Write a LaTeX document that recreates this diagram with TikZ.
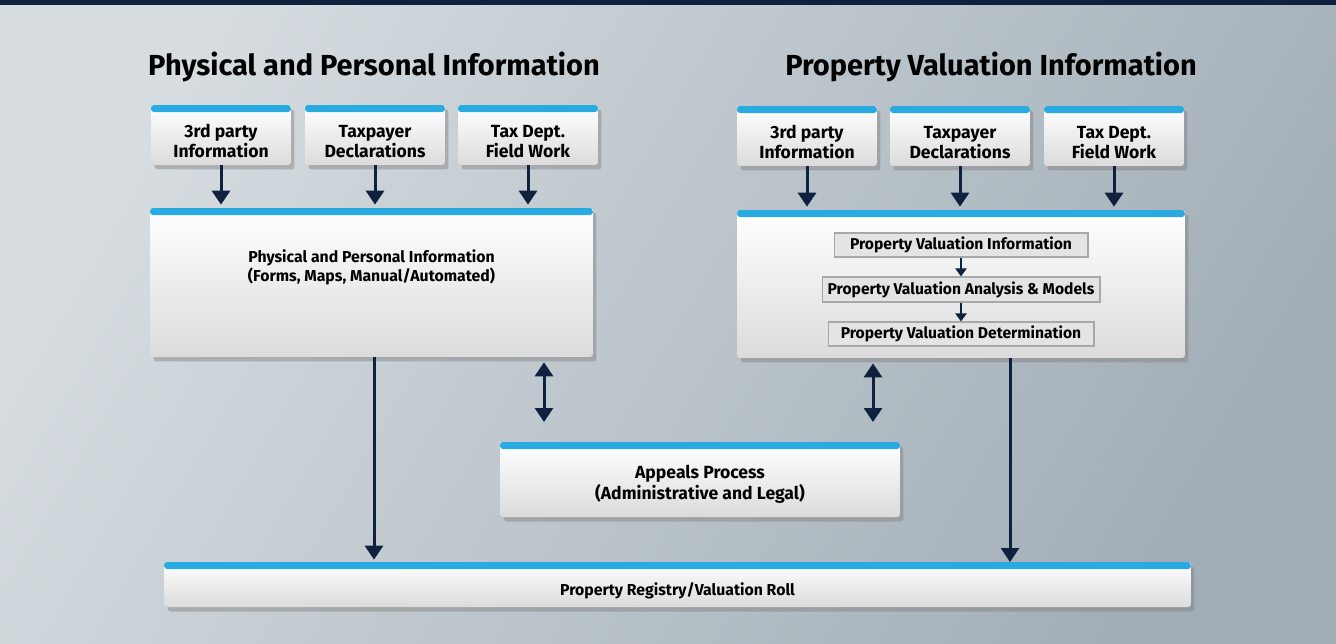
\documentclass[tikz,border=0pt]{standalone}
\usepackage{fontspec}
\setmainfont{Fira Sans}
\usetikzlibrary{positioning}
\usetikzlibrary{arrows.meta}
\usetikzlibrary{shadows}
\definecolor{navy}{HTML}{0E2240}
\definecolor{barblue}{HTML}{29ABE2}
\definecolor{bgtop}{HTML}{D6DCE0}
\definecolor{bgbot}{HTML}{A2AEB7}
\definecolor{stepfill}{HTML}{E4E4E4}
\definecolor{stepline}{HTML}{A8A8A8}
% pushes the first line of a box down below the blue bar
\newcommand{\bardown}[1][14pt]{\rule{0pt}{#1}}
\tikzset{
  infobox/.style={rectangle, rounded corners=0.06cm, top color=white, bottom color=black!14,
    drop shadow={shadow xshift=0.07cm, shadow yshift=-0.09cm, opacity=0.45},
    path picture={\fill[barblue] (path picture bounding box.north west) rectangle ([yshift=-0.14cm]path picture bounding box.north east);},
    font=\bfseries\fontsize{10}{11.5}\selectfont, align=center, inner sep=0pt},
  srcbox/.style={infobox, minimum width=2.8cm, minimum height=1.2cm},
  boxtext/.style={font=\bfseries\fontsize{9}{11}\selectfont, align=center, inner sep=0pt},
  stepbox/.style={rectangle, fill=stepfill, draw=stepline, line width=0.6pt, minimum height=0.48cm,
    inner sep=0pt, font=\bfseries\fontsize{8.9}{10}\selectfont},
  heading/.style={font=\bfseries\fontsize{16.5}{20}\selectfont, inner sep=0pt},
  flow/.style={navy, line width=0.06cm, -{Triangle[width=0.36cm,length=0.28cm]}},
  both/.style={navy, line width=0.06cm, {Triangle[width=0.36cm,length=0.28cm]}-{Triangle[width=0.36cm,length=0.28cm]}},
  smallflow/.style={navy, line width=0.04cm, -{Triangle[width=0.22cm,length=0.16cm]}}
}
\begin{document}
\begin{tikzpicture}[x=0.02cm,y=-0.02cm]
  % background
  \useasboundingbox (0,0) rectangle (1336,643);
  \fill[shading=axis, left color=bgtop, right color=bgbot, shading angle=60] (0,0) rectangle (1336,643);
  \fill[navy] (0,0) rectangle (1336,5);

  % left column
  \node[heading] (lefttitle) at (374,67) {Physical and Personal Information};
  \node[srcbox] (l3rd) at (221,135) {\bardown 3rd party\\Information};
  \node[srcbox] (ltax) at (375,135) {\bardown Taxpayer\\Declarations};
  \node[srcbox] (lfield) at (528,135) {\bardown Tax Dept.\\Field Work};
  \node[infobox, minimum width=8.86cm, minimum height=2.98cm] (ppinfo) at (371.5,282.5) {};
  \node[boxtext] (pptext) at ([yshift=-1.2cm]ppinfo.north) {Physical and Personal Information\\(Forms, Maps, Manual/Automated)};
  \draw[flow, shorten >=0.06cm] (l3rd.south) -- (l3rd.south |- ppinfo.north);
  \draw[flow, shorten >=0.06cm] (ltax.south) -- (ltax.south |- ppinfo.north);
  \draw[flow, shorten >=0.06cm] (lfield.south) -- (lfield.south |- ppinfo.north);

  % right column
  \node[heading] (righttitle) at (991,67) {Property Valuation Information};
  \node[srcbox] (r3rd) at (807,136) {\bardown 3rd party\\Information};
  \node[srcbox] (rtax) at (960,136) {\bardown Taxpayer\\Declarations};
  \node[srcbox] (rfield) at (1114,136) {\bardown Tax Dept.\\Field Work};
  \node[infobox, minimum width=8.96cm, minimum height=2.96cm] (pvinfo) at (961,284) {};
  \draw[flow, shorten >=0.06cm] (r3rd.south) -- (r3rd.south |- pvinfo.north);
  \draw[flow, shorten >=0.06cm] (rtax.south) -- (rtax.south |- pvinfo.north);
  \draw[flow, shorten >=0.06cm] (rfield.south) -- (rfield.south |- pvinfo.north);
  \node[stepbox, minimum width=5.08cm] (pvi) at (961,245) {Property Valuation Information};
  \node[stepbox, minimum width=5.56cm, minimum height=0.5cm] (pva) at (961,289.5) {Property Valuation Analysis \& Models};
  \node[stepbox, minimum width=5.32cm] (pvd) at (961,334) {Property Valuation Determination};
  \draw[smallflow] (pvi) -- (pva);
  \draw[smallflow] (pva) -- (pvd);

  % appeals and roll
  \node[infobox, minimum width=8cm, minimum height=1.5cm] (appeals) at (700,479.5) {\bardown[13pt]Appeals Process\\(Administrative and Legal)};
  \node[infobox, minimum width=20.54cm, minimum height=0.9cm] (roll) at (677.5,584.5) {\fontsize{9}{10}\selectfont\bardown Property Registry/Valuation Roll};
  \coordinate (lapp) at (544,422);
  \coordinate (rapp) at (873,422);
  \draw[both] ([yshift=-0.1cm]ppinfo.south -| lapp) -- (lapp);
  \draw[both] ([yshift=-0.1cm]pvinfo.south -| rapp) -- (rapp);
  \coordinate (rollin) at (1010,562);
  \draw[flow, shorten >=0.04cm] (ppinfo.south -| 374,0) -- (roll.north -| 374,0);
  \draw[flow] (pvinfo.south -| rollin) -- (rollin);
\end{tikzpicture}
\end{document}
